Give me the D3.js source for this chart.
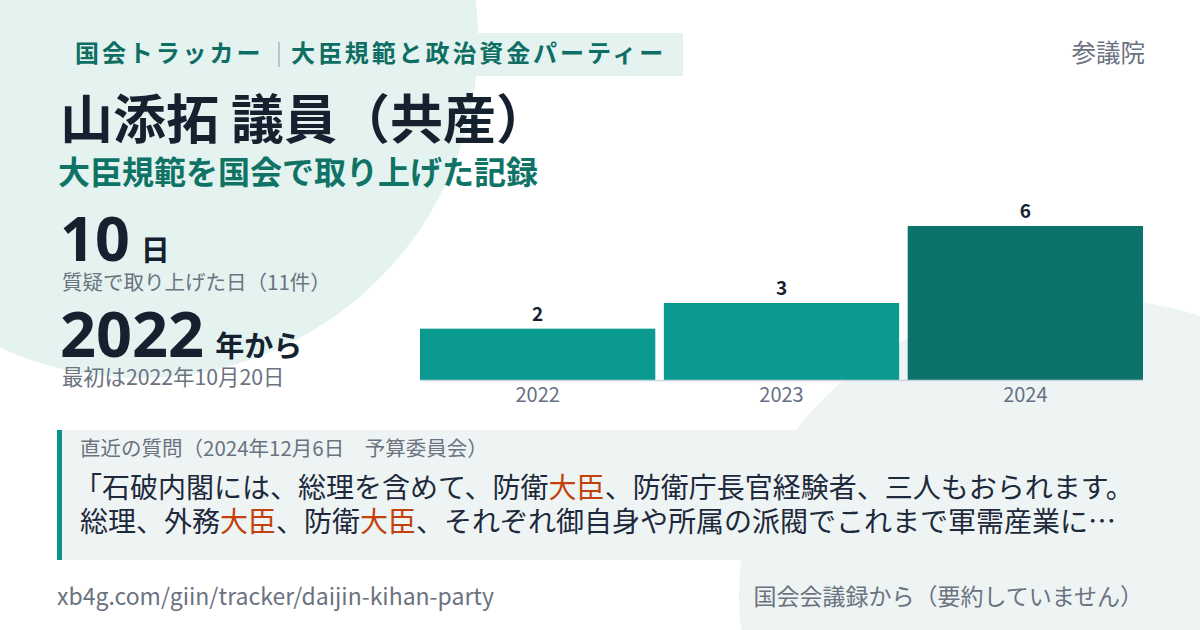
<!DOCTYPE html>
<html>
<head>
<meta charset="utf-8">
<script src="https://cdn.jsdelivr.net/npm/d3@7"></script>
<style>
  html, body { margin: 0; padding: 0; background: #fff; }
  svg { display: block; font-family: "Noto Sans CJK JP", "Noto Sans", sans-serif; }
</style>
</head>
<body>
<svg id="card" width="1200" height="630"></svg>
<script>
// データ
const years  = ["2022", "2023", "2024"];
const counts = [2, 3, 6];
const headerParts = ["国会トラッカー", "大臣規範と政治資金パーティー"];
const chamber = "参議院";
const title = "山添拓 議員（共産）";
const subtitle = "大臣規範を国会で取り上げた記録";
const stats = [
  { big: "10", unit: "日", note: "質疑で取り上げた日（11件）" },
  { big: "2022", unit: "年から", note: "最初は2022年10月20日" }
];
const quoteMeta = "直近の質問（2024年12月6日　予算委員会）";
const quoteLines = [
  "「石破内閣には、総理を含めて、防衛大臣、防衛庁長官経験者、三人もおられます。",
  "総理、外務大臣、防衛大臣、それぞれ御自身や所属の派閥でこれまで軍需産業に…"
];
const keyword = "大臣";
const footerLeft = "xb4g.com/giin/tracker/daijin-kihan-party";
const footerRight = "国会会議録から（要約していません）";

const svg = d3.select("#card");
const W = 1200, H = 630;

// 背景
svg.append("rect").attr("width", W).attr("height", H).attr("fill", "#ffffff");
svg.append("circle").attr("cx", 140).attr("cy", 40).attr("r", 338).attr("fill", "#e4f3f0");
svg.append("ellipse").attr("cx", 1080).attr("cy", 595).attr("rx", 341).attr("ry", 298).attr("fill", "#eef4f4");

// ヘッダーラベル
svg.append("rect").attr("x", 62).attr("y", 33).attr("width", 621).attr("height", 43).attr("fill", "#e4f3f0");
const hdr = svg.append("text")
  .attr("x", 75).attr("y", 62)
  .attr("font-size", 24).attr("font-weight", 700)
  .attr("letter-spacing", 2.9)
  .attr("fill", "#0f6e64");
hdr.append("tspan").text(headerParts[0]);
hdr.append("tspan").attr("x", 291).text(headerParts[1]);
svg.append("line").attr("x1", 279).attr("x2", 279).attr("y1", 42).attr("y2", 67)
  .attr("stroke", "#9aa6b2").attr("stroke-width", 1.2);

svg.append("text").attr("x", 1145).attr("y", 62)
  .attr("text-anchor", "end").attr("font-size", 24.5)
  .attr("fill", "#6b7280").text(chamber);

// タイトル
svg.append("text").attr("x", 60).attr("y", 139)
  .attr("font-size", 53).attr("font-weight", 700)
  .attr("fill", "#15212f").text(title);
svg.append("text").attr("x", 58).attr("y", 184)
  .attr("font-size", 32).attr("font-weight", 700)
  .attr("fill", "#0f7366").text(subtitle);

// 統計
const statY = [261, 357];
stats.forEach((s, i) => {
  const t = svg.append("text").attr("x", 60).attr("y", statY[i]).attr("fill", "#15212f").attr("font-weight", 700);
  t.append("tspan").attr("font-size", i === 0 ? 61 : 63).attr("font-family", "'Noto Sans', sans-serif").text(s.big);
  t.append("tspan").attr("font-size", 29).attr("dx", 11).text(s.unit);
  svg.append("text").attr("x", 62).attr("y", statY[i] + (i === 0 ? 29 : 28))
    .attr("font-size", i === 0 ? 20.5 : 21.3).attr("fill", "#6b7280").text(s.note);
});

// 棒グラフ
const x = d3.scaleBand().domain(years).range([420, 1143]).paddingInner(0.035).paddingOuter(0);
const y = d3.scaleLinear().domain([0, 6]).range([380, 226]);
const maxCount = d3.max(counts);

const chart = svg.append("g");
chart.selectAll("rect.bar")
  .data(years)
  .join("rect")
  .attr("class", "bar")
  .attr("x", d => x(d))
  .attr("y", (d, i) => y(counts[i]))
  .attr("width", x.bandwidth())
  .attr("height", (d, i) => y(0) - y(counts[i]))
  .attr("fill", (d, i) => counts[i] === maxCount ? "#0b7369" : "#0b9a8f");

chart.selectAll("text.val")
  .data(years)
  .join("text")
  .attr("class", "val")
  .attr("x", d => x(d) + x.bandwidth() / 2)
  .attr("y", (d, i) => y(counts[i]) - 8)
  .attr("text-anchor", "middle")
  .attr("font-size", 19).attr("font-weight", 700)
  .attr("fill", "#15212f")
  .text((d, i) => counts[i]);

const axis = chart.append("g")
  .attr("transform", `translate(0,${y(0)})`)
  .call(d3.axisBottom(x).tickSize(0).tickPadding(8).tickSizeOuter(0));
axis.select(".domain").attr("stroke", "#cbd5e1").attr("stroke-width", 1.5);
axis.selectAll(".tick text")
  .attr("font-family", "'Noto Sans CJK JP', sans-serif")
  .attr("font-size", 20).attr("fill", "#667085").attr("dy", "0.71em");

// 引用ボックス
svg.append("rect").attr("x", 57).attr("y", 430).attr("width", 1143).attr("height", 130).attr("fill", "#eef4f4");
svg.append("rect").attr("x", 57).attr("y", 430).attr("width", 5).attr("height", 130).attr("fill", "#0d9488");
svg.append("text").attr("x", 80).attr("y", 456)
  .attr("font-size", 20.5).attr("fill", "#6b7280").text(quoteMeta);

const qY = [498, 532];
quoteLines.forEach((line, i) => {
  const t = svg.append("text").attr("x", i === 0 ? 74 : 80).attr("y", qY[i])
    .attr("font-size", 28).attr("fill", "#1e293b");
  const parts = line.split(keyword);
  parts.forEach((p, j) => {
    if (p) t.append("tspan").text(p);
    if (j < parts.length - 1) t.append("tspan").attr("fill", "#c2410c").text(keyword);
  });
});

// フッター
svg.append("text").attr("x", 57).attr("y", 605)
  .attr("font-size", 23).attr("fill", "#6b7280").text(footerLeft);
svg.append("text").attr("x", 1143).attr("y", 605)
  .attr("text-anchor", "end").attr("font-size", 23)
  .attr("fill", "#6b7280").text(footerRight);
</script>
</body>
</html>
